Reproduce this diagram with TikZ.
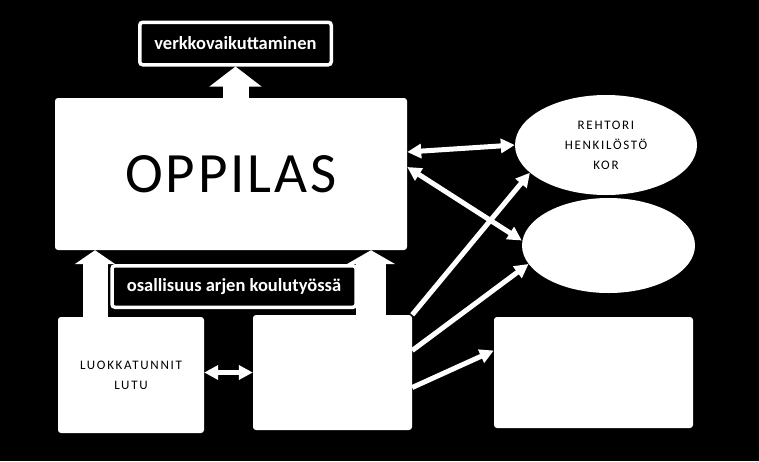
\documentclass[tikz,border=0pt]{standalone}
\usepackage{fontspec}
\setmainfont{Carlito}
\newfontfamily\spacedfont[LetterSpace=13]{Carlito}
\newfontfamily\titlefont[LetterSpace=5]{Carlito}
\usetikzlibrary{arrows.meta,shapes.geometric}

\begin{document}
\begin{tikzpicture}[x=1pt,y=-1pt,
    whitebox/.style={fill=white,rounded corners=3pt,inner sep=0pt,align=center,text=black},
    labelbox/.style={draw=white,line width=3.5pt,fill=black,rounded corners=3pt,inner sep=0pt,
      text=white,font=\fontsize{18.5}{20}\selectfont\bfseries},
    oval/.style={ellipse,fill=white,inner sep=0pt,align=center,text=black},
    smalltext/.style={font=\spacedfont\fontsize{13}{20}\selectfont},
    link/.style={white,line width=5pt,-{Triangle[width=14pt,length=14pt]}},
    duolink/.style={link,{Triangle[width=14pt,length=14pt]}-{Triangle[width=14pt,length=14pt]}},
    fatlink/.style 2 args={white,line width=#1,-{Triangle[width=#2,length=14pt]}}]
  \fill[black] (0,0) rectangle (759,461);   % page, 759x461 px
  % left column: boxes
  \node[whitebox,minimum width=352pt,minimum height=152pt] (oppilas) at (231,174)
    {\titlefont\fontsize{57}{60}\selectfont OPPILAS};
  \node[labelbox,minimum width=191.5pt,minimum height=42.5pt] (verkko) at (235.5,43.5) {verkkovaikuttaminen};
  \node[whitebox,smalltext,minimum width=146pt,minimum height=116pt] (luokka) at (131,375) {LUOKKATUNNIT\\LUTU};
  \node[whitebox,minimum width=159pt,minimum height=115pt] (keski) at (332.5,372.5) {};
  % right column: ovals and box
  \node[oval,smalltext,minimum width=182pt,minimum height=100pt] (rehtori) at (606,145) {REHTORI\\HENKILÖSTÖ\\KOR};
  \node[oval,minimum width=173pt,minimum height=95pt] (soikio) at (608.5,245.5) {};
  \node[whitebox,minimum width=199pt,minimum height=111pt] (laatikko) at (593.5,372.5) {};
  % fat arrows between OPPILAS and the boxes below / above
  \coordinate (palkkiV) at (95,0);
  \coordinate (palkkiO) at (371,0);
  \draw[white,line width=26pt,-{Triangle[width=51pt,length=20pt]}] (verkko.south |- oppilas.north) -- (verkko.south);
  \draw[fatlink={25pt}{40pt}] (palkkiV |- luokka.north) -- (palkkiV |- oppilas.south);
  \draw[fatlink={30pt}{48pt}] (palkkiO |- keski.north) -- (palkkiO |- oppilas.south);
  \node[labelbox,minimum width=244pt,minimum height=41.5pt] (osallisuus) at (234,286.5) {osallisuus arjen koulutyössä};
  % thin arrows
  \draw[duolink] (luokka.east |- keski.west) -- (keski.west);
  \draw[duolink] ([yshift=22pt]oppilas.east) -- (rehtori.west);
  \draw[duolink] ([yshift=7pt]oppilas.east) -- ([yshift=5pt]soikio.west);
  \draw[link] (keski.north east) -- (rehtori.200);
  \draw[link] ([yshift=22pt]keski.east) -- (soikio.193);
  \draw[link] ([yshift=-15pt]keski.east) -- ([yshift=22pt]laatikko.west);
\end{tikzpicture}
\end{document}
